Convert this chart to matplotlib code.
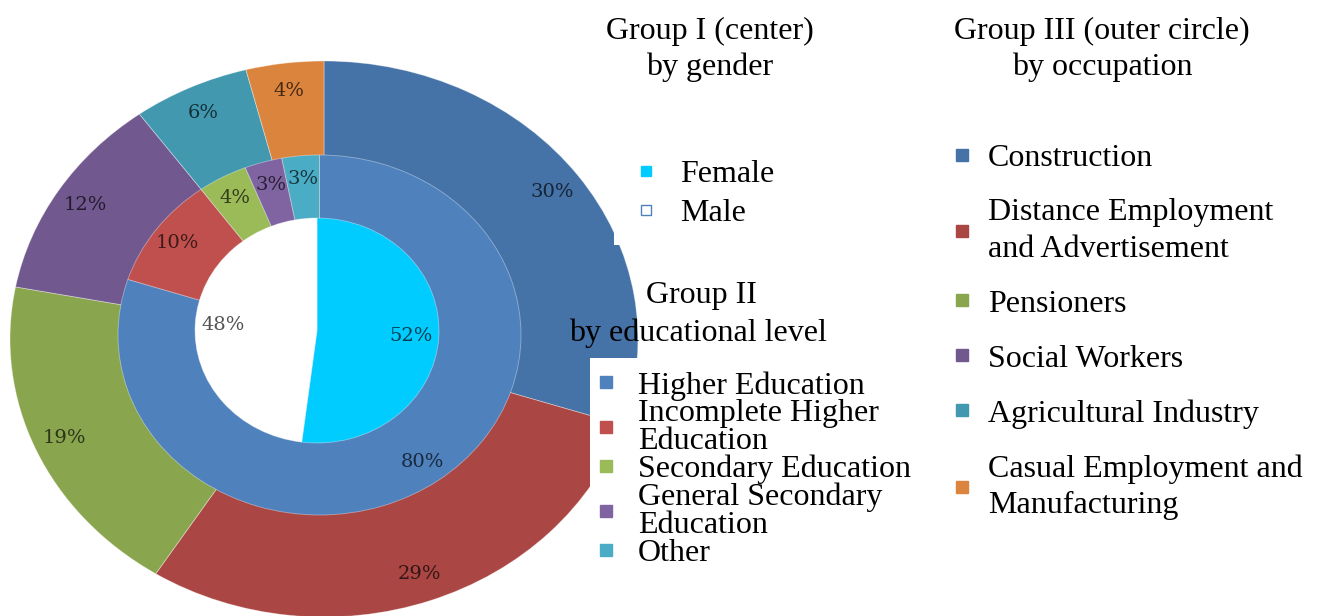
import matplotlib.pyplot as plt
import matplotlib.colors as mcolors
from matplotlib.lines import Line2D

# Group I (center): gender
gender_labels = ['Female', 'Male']
gender_values = [52, 48]
gender_colors = ['#00CCFF', '#FFFFFF']

# Group II (middle ring): educational level
edu_labels = ['Higher Education', 'Incomplete Higher\nEducation', 'Secondary Education',
              'General Secondary\nEducation', 'Other']
edu_values = [80, 10, 4, 3, 3]
edu_colors = ['#4F81BD', '#C0504D', '#9BBB59', '#8064A2', '#4BACC6']

# Group III (outer circle): occupation
occ_labels = ['Construction', 'Distance Employment\nand Advertisement', 'Pensioners',
              'Social Workers', 'Agricultural Industry', 'Casual Employment and\nManufacturing']
occ_values = [30, 29, 19, 12, 6, 4]
occ_colors = ['#4572A7', '#AA4643', '#89A54E', '#71588F', '#4198AF', '#DB843D']

W, H = 1317, 616
fig = plt.figure(figsize=(W / 100, H / 100), dpi=100)
FS = 23
font = dict(family='Liberation Serif', size=FS)


def px_axes(x0, y0, x1, y1):
    # axes box given in pixels from the top-left corner
    return fig.add_axes([x0 / W, 1 - y1 / H, (x1 - x0) / W, (y1 - y0) / H])


def dark(c, f=0.32):
    r, g, b = mcolors.to_rgb(c)
    return (r * f, g * f, b * f)


def ring(ax, values, colors, pctdist):
    wedges, texts, autotexts = ax.pie(
        values, colors=colors, startangle=90, counterclock=False, radius=1,
        autopct=lambda p: f'{p:.0f}%', pctdistance=pctdist,
        wedgeprops=dict(linewidth=0.6, edgecolor=(1, 1, 1, 0.4)),
        textprops=dict(family='DejaVu Serif', fontsize=14))
    for t, c in zip(autotexts, colors):
        t.set_color(dark(c))
    ax.set_aspect('auto')
    ax.set_xlim(-1, 1)
    ax.set_ylim(-1, 1)
    ax.axis('off')
    return wedges


ring(px_axes(10, 61, 638, 617), occ_values, occ_colors, 0.9)
ring(px_axes(118, 155, 521, 515), edu_values, edu_colors, 0.87)
ring(px_axes(195, 218, 439, 443), gender_values, gender_colors, 0.77)


def sq(face, size, edge=None):
    return Line2D([], [], linestyle='none', marker='s', markersize=size,
                  markerfacecolor=face, markeredgecolor=edge or face, markeredgewidth=1)


common = dict(loc='upper left', borderaxespad=0, fancybox=False, prop=font,
              facecolor='white', edgecolor='none', framealpha=1)

# Group I legend
leg1 = fig.legend([sq(gender_colors[0], 7.5), sq(gender_colors[1], 7.5, '#4F81BD')], gender_labels,
                  bbox_to_anchor=(614 / W, 1 - 143 / H), borderpad=0.53, labelspacing=0.29,
                  handlelength=0.94, handletextpad=0.6, **common)

# Group II legend
leg2 = fig.legend([sq(c, 9) for c in edu_colors], edu_labels,
                  bbox_to_anchor=(590 / W, 1 - 358 / H), borderpad=0.41, labelspacing=-0.05,
                  handlelength=0.19, handletextpad=0.9, **common)
for t in leg2.get_texts():
    t.set_linespacing(0.96)

# Group III legend
leg3 = fig.legend([sq(c, 8) for c in occ_colors], occ_labels,
                  bbox_to_anchor=(952 / W, 1 - 143.5 / H), borderpad=0, labelspacing=0.8,
                  handlelength=0.6, handletextpad=0.53, frameon=False,
                  loc='upper left', borderaxespad=0, prop=font)
for t in leg3.get_texts():
    t.set_linespacing(1.33)

# group titles
titles = [(710, 38.5, 'Group I (center)'), (710, 75.5, 'by gender'),
          (1102, 38.5, 'Group III (outer circle)'), (1102, 75.5, 'by occupation'),
          (701, 303.5, 'Group II'), (698, 340.5, 'by educational level')]
for x, y, s in titles:
    fig.text(x / W, 1 - y / H, s, ha='center', va='baseline', fontdict=font, zorder=6)

fig.savefig('out.png', dpi=100, facecolor='white')
